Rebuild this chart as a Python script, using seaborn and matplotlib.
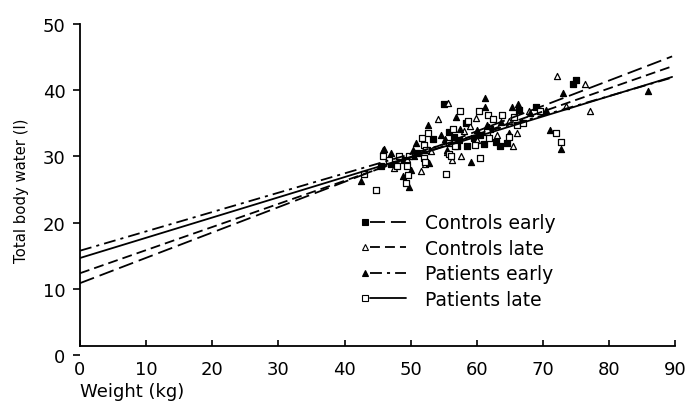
"""
Total body water against weight, controls vs patients, early and late.
Scatter of individual measurements with the four regression lines.
"""
import numpy as np
import pandas as pd
import matplotlib
matplotlib.use("Agg")
import matplotlib.pyplot as plt
from matplotlib.lines import Line2D
from matplotlib.legend_handler import HandlerLine2D
import seaborn as sns

# Regression lines at weight 0 and at the right end
LINE_X = [0, 89.5]
CE_LINE = [10.85, 45.1]
CL_LINE = [12.35, 43.6]
PE_LINE = [15.75, 41.9]
PL_LINE = [14.65, 42.0]

# Controls early (filled squares)
CE_X = [45.5, 47.0, 49.0, 51.0, 52.5, 53.4, 55.0, 55.75, 56.5, 57.0, 57.25, 58.3,
        58.5, 59.5, 60.5, 61.0, 62.0, 62.85, 63.5, 64.5, 66.3, 68.9, 74.5, 75.0]
CE_Y = [28.5, 28.8, 29.5, 30.5, 31.0, 32.6, 37.9, 33.7, 33.0, 31.5, 32.5, 35.0,
        31.6, 32.8, 33.2, 31.8, 34.2, 32.2, 31.6, 32.0, 37.0, 37.4, 41.0, 41.5]

# Controls late (open triangles)
CL_X = [47.5, 49.5, 51.5, 52.2, 53.0, 54.15, 55.4, 55.6, 56.3, 57.6, 58.1, 58.9,
        59.8, 60.0, 61.8, 63.0, 64.8, 65.5, 66.1, 67.9, 72.1, 73.5, 76.4, 77.1]
CL_Y = [28.2, 29.6, 27.8, 28.9, 30.8, 35.6, 30.6, 38.0, 29.5, 30.0, 33.8, 34.6,
        35.8, 32.5, 34.4, 33.2, 35.3, 31.5, 33.6, 36.9, 42.2, 37.6, 40.9, 36.9]

# Patients early (filled triangles)
PE_X = [42.4, 45.75, 46.0, 47.0, 48.75, 49.75, 50.0, 50.4, 50.5, 50.75, 52.6,
        52.75, 54.5, 55.1, 55.5, 56.8, 57.5, 59.1, 60.0, 61.15, 61.25, 61.5, 63.7,
        64.9, 65.25, 66.2, 66.8, 68.0, 70.5, 71.1, 72.75, 73.0, 85.9]
PE_Y = [26.3, 30.9, 31.1, 30.5, 27.0, 25.4, 27.9, 31.0, 30.0, 32.0, 34.7,
        29.0, 33.3, 32.6, 31.0, 35.9, 34.1, 29.1, 34.0, 38.8, 37.5, 34.7, 35.2,
        33.5, 37.4, 37.9, 35.2, 36.5, 37.0, 34.0, 31.1, 39.5, 39.9]

# Patients late (open squares)
PL_X = [43.0, 44.75, 45.85, 46.75, 47.9, 48.25, 49.25, 49.5, 49.6, 49.75, 51.65,
        52.0, 52.0, 52.1, 52.25, 52.65, 55.25, 55.75, 55.75, 56.1, 56.35, 56.75,
        57.4, 58.6, 59.65, 60.25, 60.5, 61.5, 61.6, 61.75, 62.35, 63.75, 64.9,
        65.6, 66.1, 67.0, 69.5, 71.9, 72.75]
PL_Y = [27.4, 24.9, 30.0, 29.5, 28.5, 30.1, 26.0, 28.5, 27.2, 30.0, 32.7,
        31.7, 29.8, 29.2, 31.0, 33.6, 27.3, 32.0, 30.4, 30.0, 34.2, 31.5,
        36.9, 35.4, 31.7, 36.8, 29.8, 33.7, 36.3, 32.7, 35.7, 36.3, 32.9,
        35.9, 34.7, 35.0, 36.8, 33.6, 32.2]

GROUPS = ["Controls early", "Controls late", "Patients early", "Patients late"]

LW = 1.3
STYLES = {
    "Controls early": dict(marker="s", fill="black", ls=(0, (8.3, 3.3))),
    "Controls late": dict(marker="^", fill="white", ls=(0, (5.5, 2.8))),
    "Patients early": dict(marker="^", fill="black", ls=(0, (6.6, 2.8, 1.7, 2.8))),
    "Patients late": dict(marker="s", fill="white", ls="-"),
}


class MarkerAtStart(HandlerLine2D):
    """Legend handle: marker at the left, a short gap, then the line."""
    def create_artists(self, legend, orig_handle, xdescent, ydescent,
                       width, height, fontsize, trans):
        y = (height - ydescent) / 2
        gap = 0.3 * fontsize
        line = Line2D([-xdescent + gap, -xdescent + width], [y, y])
        self.update_prop(line, orig_handle, legend)
        line.set_marker("None")
        mark = Line2D([-xdescent], [y])
        self.update_prop(mark, orig_handle, legend)
        mark.set_linestyle("None")
        line.set_transform(trans)
        mark.set_transform(trans)
        return [line, mark]


sns.set_style("ticks")
plt.rcParams["font.family"] = ["DejaVu Sans"]
plt.rcParams["text.color"] = "black"
plt.rcParams["axes.labelcolor"] = "black"

points = pd.concat([
    pd.DataFrame({"weight": CE_X, "tbw": CE_Y, "group": "Controls early"}),
    pd.DataFrame({"weight": CL_X, "tbw": CL_Y, "group": "Controls late"}),
    pd.DataFrame({"weight": PE_X, "tbw": PE_Y, "group": "Patients early"}),
    pd.DataFrame({"weight": PL_X, "tbw": PL_Y, "group": "Patients late"}),
], ignore_index=True)
lines = {
    "Controls early": CE_LINE,
    "Controls late": CL_LINE,
    "Patients early": PE_LINE,
    "Patients late": PL_LINE,
}

fig = plt.figure(figsize=(6.86, 4.06), dpi=100)
ax = fig.add_axes([0.1166, 0.1232, 0.868, 0.8153])

for g in GROUPS:
    st = STYLES[g]
    sub = points[points["group"] == g]
    size = 15 if st["marker"] == "s" else 19
    sns.scatterplot(data=sub, x="weight", y="tbw", marker=st["marker"],
                    color=st["fill"], edgecolor="black", linewidth=0.9,
                    s=size, ax=ax, zorder=2, legend=False)
    sns.lineplot(x=LINE_X, y=lines[g], color="black", linewidth=LW,
                 linestyle=st["ls"], ax=ax, zorder=3)

ax.set_xlim(0, 90)
ax.set_ylim(0, 50)
ax.set_xticks(range(0, 91, 10))
ax.set_yticks(range(0, 51, 10))

# the x axis of the original sits a little above zero
ax.spines["bottom"].set_position(("data", 1.4))
ax.spines["left"].set_bounds(1.4, 50)
for side in ["top", "right"]:
    ax.spines[side].set_visible(False)
for side in ["left", "bottom"]:
    ax.spines[side].set_linewidth(1.3)
    ax.spines[side].set_color("black")

ax.tick_params(axis="y", direction="out", length=5, width=1.2, pad=5.5,
               labelsize=13, colors="black")
ax.tick_params(axis="x", direction="in", length=4, width=1.2, pad=10,
               labelsize=13, colors="black")

ax.set_xlabel("Weight (kg)", fontsize=13, loc="left", labelpad=3)
ax.set_ylabel("Total body water (l)", fontsize=10.7, labelpad=10)

handles = []
for g in GROUPS:
    st = STYLES[g]
    handles.append(Line2D([], [], color="black", linewidth=LW, linestyle=st["ls"],
                          marker=st["marker"], markersize=3.8,
                          markerfacecolor=st["fill"], markeredgecolor="black",
                          markeredgewidth=0.8))
ax.legend(handles, GROUPS, loc="upper left", bbox_to_anchor=(0.478, 0.428),
          frameon=False, fontsize=13.5, handlelength=2.2, handletextpad=1.0,
          labelspacing=0.35, borderpad=0, borderaxespad=0,
          handler_map={Line2D: MarkerAtStart()})

plt.savefig("out.png", dpi=100)
plt.close()
